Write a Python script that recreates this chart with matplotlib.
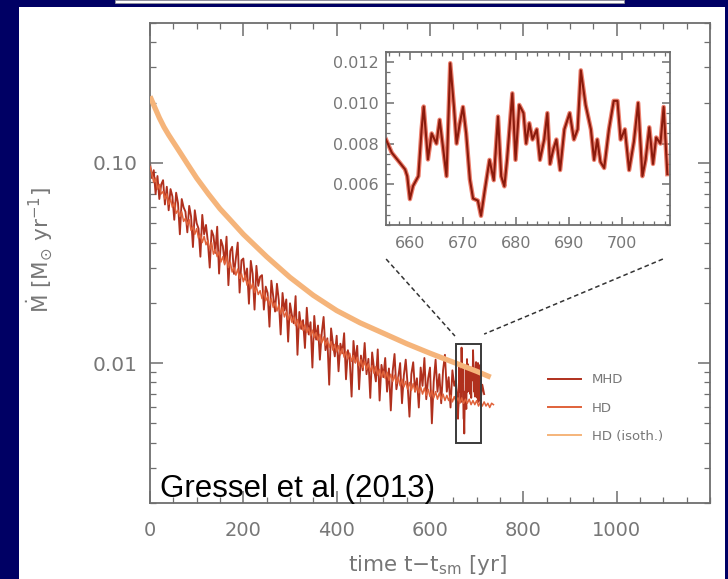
import numpy as np
import matplotlib
matplotlib.use("Agg")
import matplotlib.pyplot as plt
from matplotlib.patches import Rectangle
from matplotlib.lines import Line2D
from matplotlib.ticker import FixedLocator, MultipleLocator, LogLocator, NullFormatter, FixedFormatter

plt.rcParams["mathtext.default"] = "regular"
plt.rcParams["font.family"] = ["DejaVu Sans"]

# ---------------------------------------------------------------- data
# accretion rates of the long runs in units of 1e-3 Msun/yr
DT = 4.0  # output interval of the long runs [yr]

# MHD run, t = 0 ... 652 yr
mhd_coarse = [
    100, 84, 92, 70, 86, 66, 78, 82, 62, 76,
    58, 74, 68, 52, 71, 63, 44, 66, 60, 57,
    45, 61, 54, 38, 58, 50, 47, 34, 55, 44,
    49, 40.3, 30, 46, 43.2, 35.5, 48, 28, 41.3, 38.4,
    31.6, 42.8, 24.5, 36.3, 38.1, 27.9, 33.5, 40, 22.5, 32.6,
    33.3, 26.1, 29.7, 19.8, 32.4, 27.9, 18.5, 30.6, 24.3, 27,
    27.5, 18.5, 24.1, 22.4, 15.2, 25.8, 21.5, 18.1, 24.9, 20.6,
    13.9, 22.4, 18.3, 20.8, 12.8, 19.9, 17.4, 15.8, 21.6, 11,
    18, 14.8, 16.4, 11.9, 18.9, 13.9, 16, 9.5, 17.2, 13.1,
    15.4, 10.4, 14.1, 17, 11.6, 13.3, 7.8, 14.9, 12.5, 10.8,
    13.7, 9.1, 12.5, 11.2, 14.1, 8.3, 11.6, 10.4, 6.8, 12.9,
    10.1, 12.2, 7.4, 10.9, 9.2, 12.6, 8.8, 10.5, 6.7, 11.3,
    9.4, 8.1, 11.7, 6.5, 9.8, 8.5, 10.6, 7.2, 9.4, 5.8,
    9.1, 11.1, 7.4, 8.5, 10, 6.3, 8.7, 10.4, 7.8, 5.4,
    8.8, 10.1, 7.2, 8.4, 6, 9.5, 7.7, 10.6, 6.6, 8.4,
    9.5, 5, 8.1, 10.4, 7.2, 8.8, 6.3, 9.2, 11, 7.2,
    8.5, 6, 9.2, 7.7,
]

# MHD run at full resolution inside the zoomed window
zoom_t = [
    655.5, 656.6, 658.1, 659.1, 659.5, 660.0, 660.6, 661.6, 662.2, 662.6,
    663.4, 664.1, 665.0, 665.6, 666.9, 667.6, 668.3, 668.8, 669.4, 670.0,
    670.6, 671.3, 671.9, 672.8, 673.4, 674.1, 675.0, 675.8, 676.6, 677.2,
    677.8, 678.3, 679.3, 679.9, 680.6, 681.4, 681.9, 682.5, 683.1, 683.9,
    684.5, 685.3, 685.9, 686.4, 687.0, 687.6, 688.3, 689.1, 690.1, 690.9,
    691.6, 692.2, 693.1, 694.1, 694.7, 695.3, 695.9, 696.6, 697.5, 698.4,
    699.1, 699.7, 700.5, 701.3, 702.2, 703.0, 703.8, 704.4, 705.1, 705.8,
    706.4, 707.2, 707.8, 708.5,
]
zoom_mhd = [
    8.2, 7.55, 7.06, 6.73, 6.4, 5.27, 5.92, 6.4, 8.68, 9.82,
    7.22, 8.5, 8.0, 9.17, 6.4, 11.95, 9.8, 8.0, 9.0, 9.8,
    8.5, 6.24, 5.3, 5.2, 4.45, 5.7, 7.2, 6.2, 9.33, 6.4,
    5.9, 7.2, 10.47, 7.2, 9.9, 9.5, 8.0, 9.0, 8.2, 8.7,
    7.2, 8.2, 9.5, 7.0, 7.7, 8.2, 6.7, 8.7, 9.5, 8.2,
    8.7, 11.6, 9.9, 8.7, 7.2, 8.2, 7.1, 6.8, 8.7, 10.1,
    10.1, 8.2, 8.7, 6.7, 8.1, 10.0, 6.4, 7.2, 8.8, 7.0,
    8.3, 8.0, 9.8, 6.5,
]

# last MHD samples after the window
mhd_tail_t = [712.0, 716.0]
mhd_tail = [7.8, 7.0]

# HD run, t = 0 ... 736 yr
hd_vals = [
    96, 88, 80, 84, 74, 78, 70, 72, 66, 70,
    62, 66, 60, 63, 56, 58, 54, 57, 51, 53,
    49, 52, 46, 48, 44, 47, 42, 44, 40, 43,
    39, 41, 37, 40, 35, 37, 34, 36, 32, 34,
    31, 34, 30, 32, 28.5, 30, 27.5, 29.5, 26.5, 28,
    25.5, 27.5, 24.5, 26, 23.5, 25, 22.5, 24, 22, 23,
    21, 23, 20.5, 21.5, 19.5, 21, 19, 20, 18.2, 19.5,
    17.6, 19, 17, 18, 16.5, 17.5, 16, 17, 15.4, 16.5,
    15, 16.2, 14.6, 15.5, 14.2, 15, 13.7, 14.6, 13.4, 14.2,
    13, 13.9, 12.6, 13.5, 12.3, 13, 12, 12.8, 11.6, 12.4,
    11.4, 12.2, 11, 11.8, 10.7, 11.4, 10.5, 11.2, 10.2, 10.9,
    10, 10.7, 9.7, 10.4, 9.5, 10.2, 9.3, 9.9, 9.1, 9.7,
    8.9, 9.6, 8.7, 9.3, 8.5, 9.1, 8.4, 9, 8.2, 8.8,
    8.1, 8.7, 7.9, 8.5, 7.7, 8.3, 7.6, 8.1, 7.4, 8,
    7.3, 7.9, 7.2, 7.7, 7.1, 7.6, 7, 7.5, 6.9, 7.4,
    6.8, 7.3, 6.7, 7.2, 6.6, 7.1, 6.6, 7, 6.5, 6.9,
    6.5, 6.9, 6.4, 6.8, 6.4, 6.7, 6.3, 6.7, 6.3, 6.6,
    6.3, 6.6, 6.2, 6.5, 6.2, 6.5, 6.1, 6.4, 6.1, 6.4,
    6.1, 6.3, 6.0, 6.3, 6.2,
]

# isothermal HD run [Msun/yr]
iso_t = [0, 10, 20, 30, 40, 50, 60, 80, 100, 125, 150, 175, 200,
         250, 300, 350, 400, 450, 500, 550, 600, 650, 700, 730]
iso_mdot = [0.215, 0.19, 0.168, 0.151, 0.138, 0.127, 0.117, 0.099, 0.084,
            0.070, 0.059, 0.051, 0.044, 0.034, 0.0268, 0.0218, 0.0183,
            0.0159, 0.0141, 0.0125, 0.0112, 0.0101, 0.0091, 0.0085]

series_labels = ["MHD", "HD", "HD (isoth.)"]
x_ticks = [0, 200, 400, 600, 800, 1000]
y_ticks = [0.01, 0.1]
y_ticklabels = ["0.01", "0.10"]
inset_x_ticks = [660, 670, 680, 690, 700]
inset_y_ticks = [0.006, 0.008, 0.010, 0.012]

# ---------------------------------------------------------------- arrays
t_mhd = np.concatenate([np.arange(len(mhd_coarse)) * DT, zoom_t, mhd_tail_t])
mdot_mhd = np.concatenate([mhd_coarse, zoom_mhd, mhd_tail]) * 1e-3
t_hd = np.arange(len(hd_vals)) * DT
mdot_hd = np.array(hd_vals) * 1e-3
zt = np.array(zoom_t)
zmhd = np.array(zoom_mhd) * 1e-3

C_MHD = "#b0301d"
C_HD = "#e0623a"
C_ISO = "#f5b47a"
C_TXT = "#777777"
C_AX = "#6e6e6e"

W, H = 728, 579
fig = plt.figure(figsize=(W / 100, H / 100), dpi=100)
fig.patch.set_facecolor("#000064")

# white slide panel and the strip of the box above it
fig.patches.append(Rectangle((19 / W, 0), 706 / W, 572 / H, transform=fig.transFigure,
                             facecolor="white", edgecolor="none", zorder=-10))
fig.patches.append(Rectangle((115 / W, 1 - 2.5 / H), 509 / W, 2.5 / H, transform=fig.transFigure,
                             facecolor="white", edgecolor="#999999", lw=0.5, zorder=-10))


def style_axes(a, major_len, minor_len):
    for s in a.spines.values():
        s.set_color(C_AX)
        s.set_linewidth(1.3)
    a.tick_params(which="both", direction="in", top=True, right=True,
                  colors=C_AX, labelcolor=C_TXT)
    a.tick_params(which="major", length=major_len, width=1.1)
    a.tick_params(which="minor", length=minor_len, width=0.9)


# ---------------------------------------------------------------- main panel
ax = fig.add_axes([150 / W, 1 - 503 / H, 560 / W, 480 / H])
ax.set_facecolor("white")
ax.plot(t_mhd, mdot_mhd, color=C_MHD, lw=1.35, zorder=2)
ax.plot(t_hd, mdot_hd, color=C_HD, lw=1.1, zorder=3)
ax.plot(iso_t, iso_mdot, color=C_ISO, lw=3.8, solid_capstyle="butt", zorder=4)

ax.set_yscale("log")
ax.set_xlim(0, 1200)
ax.set_ylim(0.002, 0.5)
ax.xaxis.set_major_locator(FixedLocator(x_ticks))
ax.xaxis.set_minor_locator(MultipleLocator(50))
ax.yaxis.set_major_locator(FixedLocator(y_ticks))
ax.yaxis.set_major_formatter(FixedFormatter(y_ticklabels))
ax.yaxis.set_minor_locator(LogLocator(base=10, subs=np.arange(2, 10)))
ax.yaxis.set_minor_formatter(NullFormatter())
style_axes(ax, 9, 4.5)
ax.tick_params(axis="x", which="major", labelsize=14, pad=13)
ax.tick_params(axis="y", which="major", labelsize=14.5, pad=9)

fig.text(428 / W, 1 - 565 / H, r"time t$-$t$_{sm}$ [yr]", ha="center", va="center",
         fontsize=15.5, color=C_TXT)
fig.text(40 / W, 1 - 250 / H, r"$\dot{M}$ [M$_{\odot}$ yr$^{-1}$]", rotation=90,
         ha="center", va="center", fontsize=15.5, color=C_TXT)

handles = [Line2D([], [], color=c, lw=1.4) for c in (C_MHD, C_HD, C_ISO)]
ax.legend(handles, series_labels, loc="upper left", bbox_to_anchor=(0.711, 0.27),
          frameon=False, fontsize=9.5, handlelength=2.5, handletextpad=0.8,
          labelspacing=1.15, borderpad=0, borderaxespad=0, labelcolor=C_TXT)

# ---------------------------------------------------------------- zoom inset
axi = fig.add_axes([386 / W, 1 - 225 / H, 284 / W, 173 / H])
axi.plot(zt, zmhd, color="#e8604a", lw=3.2, alpha=0.8, zorder=2)
axi.plot(zt, zmhd, color="#8a1a0c", lw=1.5, zorder=3)
axi.set_xlim(655.5, 709)
axi.set_ylim(0.004, 0.0125)
axi.xaxis.set_major_locator(FixedLocator(inset_x_ticks))
axi.xaxis.set_minor_locator(MultipleLocator(2))
axi.yaxis.set_major_locator(FixedLocator(inset_y_ticks))
axi.yaxis.set_major_formatter(FixedFormatter([f"{v:.3f}" for v in inset_y_ticks]))
axi.yaxis.set_minor_locator(MultipleLocator(0.0005))
style_axes(axi, 6, 3)
axi.tick_params(axis="both", which="major", labelsize=11.5)
axi.tick_params(axis="x", which="major", pad=8)
axi.tick_params(axis="y", which="major", pad=5)

# zoom window in the main panel, taken from the inset limits
x0, x1 = axi.get_xlim()
y0, y1 = axi.get_ylim()
ax.add_patch(Rectangle((x0, y0), x1 - x0, y1 - y0, fill=False, edgecolor="#3a3a3a",
                       lw=1.4, zorder=6))

# dashed guide lines from the window up towards the inset
ax.plot([506, 653.5], [0.0331, 0.01365], ls=(0, (3, 2)), color="#333333", lw=1.1,
        clip_on=False, zorder=6)
ax.plot([1099, 716], [0.0331, 0.01396], ls=(0, (3, 2)), color="#333333", lw=1.1,
        clip_on=False, zorder=6)

fig.text(160 / W, 1 - 497 / H, "Gressel et al (2013)", fontsize=22.5,
         family="Liberation Sans", color="black", va="baseline", ha="left")

fig.savefig("out.png", dpi=100, facecolor=fig.get_facecolor())
